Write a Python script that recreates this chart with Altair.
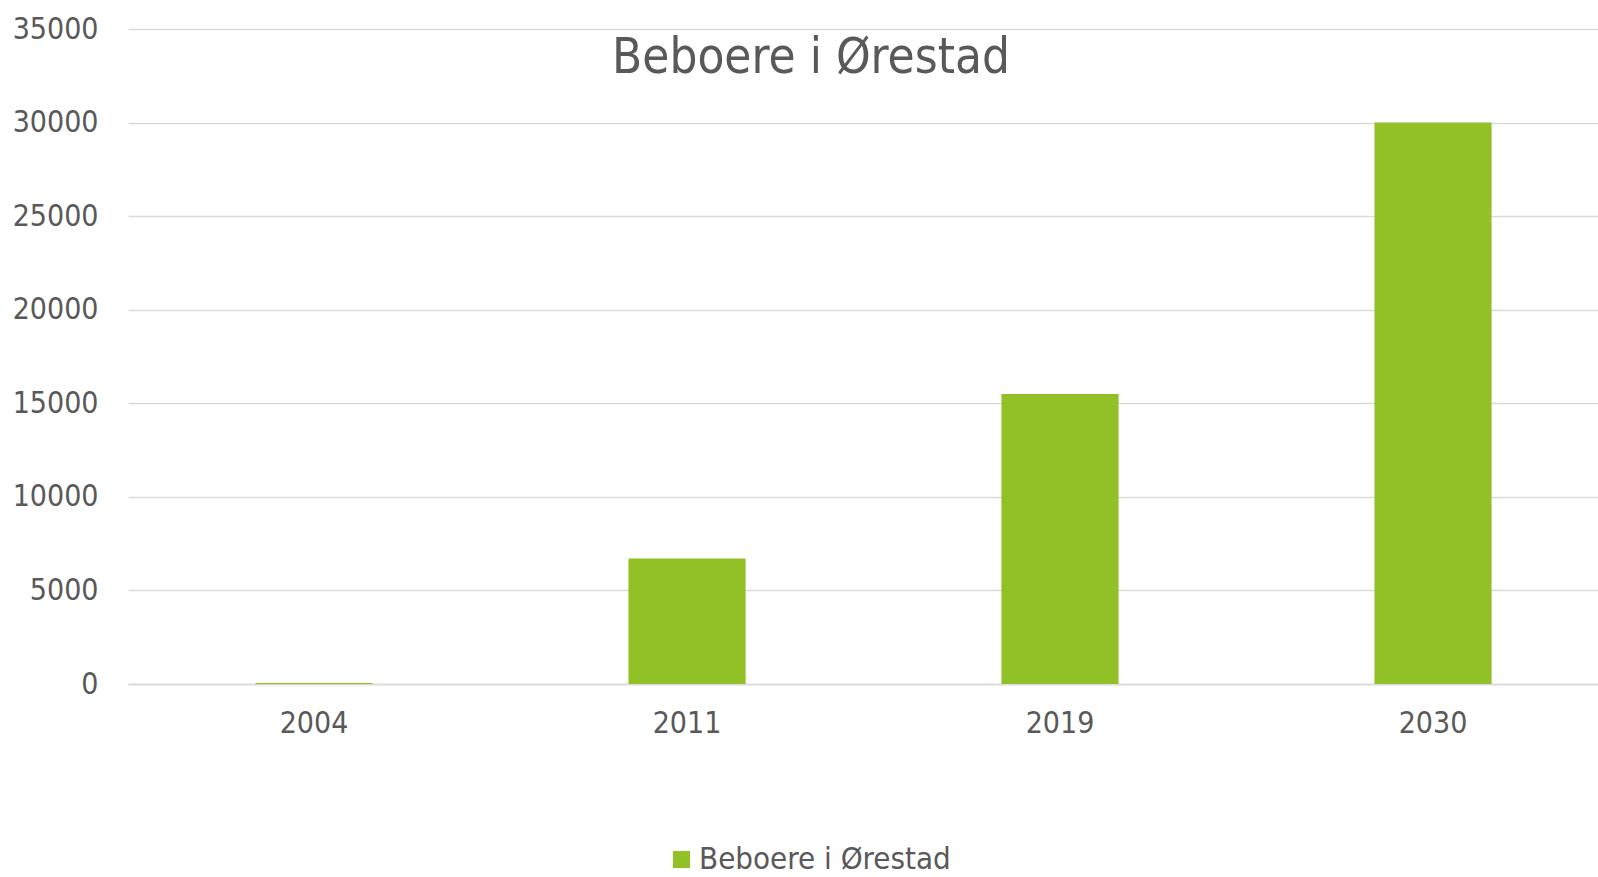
import altair as alt
import pandas as pd

years = ["2004", "2011", "2019", "2030"]
residents = [60, 6700, 15500, 30000]
series = ["Beboere i Ørestad"] * len(years)
title_text = ["Beboere i Ørestad"]

df = pd.DataFrame({"year": years, "residents": residents, "series": series})
title_df = pd.DataFrame({"title": title_text})

FONT = "DejaVu Sans Condensed"
TEXT = "#595959"
GREEN = "#92C027"
GRID = "#D9D9D9"

bars = (
    alt.Chart(df)
    .mark_bar()
    .encode(
        x=alt.X(
            "year:N",
            sort=years,
            title=None,
            scale=alt.Scale(paddingInner=0.686, paddingOuter=0.3135, align=0.545),
            axis=alt.Axis(
                labelAngle=0,
                labelFontSize=30,
                labelFont=FONT,
                labelColor=TEXT,
                labelPadding=24,
                ticks=False,
                domainColor=GRID,
                domainWidth=1.5,
                grid=False,
            ),
        ),
        y=alt.Y(
            "residents:Q",
            title=None,
            scale=alt.Scale(domain=[0, 35000], nice=False),
            axis=alt.Axis(
                values=[0, 5000, 10000, 15000, 20000, 25000, 30000, 35000],
                format="d",
                labelFontSize=30,
                labelFont=FONT,
                labelColor=TEXT,
                labelPadding=30,
                ticks=False,
                domain=False,
                gridColor=GRID,
                gridWidth=1.5,
            ),
        ),
        color=alt.Color(
            "series:N",
            scale=alt.Scale(range=[GREEN]),
            legend=alt.Legend(
                title=None,
                orient="none",
                legendX=538,
                legendY=815,
                symbolType="square",
                symbolSize=289,
                symbolStrokeWidth=0,
                symbolOpacity=1,
                labelFontSize=31,
                labelFont=FONT,
                labelColor=TEXT,
                labelOffset=2,
                labelLimit=0,
                padding=0,
            ),
        ),
    )
)

title = (
    alt.Chart(title_df)
    .mark_text(
        font=FONT,
        fontSize=49,
        color=TEXT,
        align="center",
        baseline="alphabetic",
    )
    .encode(text="title:N", x=alt.value(683), y=alt.value(44))
)

chart = (
    alt.layer(bars, title)
    .properties(
        width=1470,
        height=655,
        autosize=alt.AutoSizeParams(type="none"),
        padding={"left": 128, "top": 29, "right": 0, "bottom": 193},
        background="white",
    )
    .configure_view(stroke=None)
)

chart.save("out.html", embed_options={"renderer": "svg", "actions": False})
